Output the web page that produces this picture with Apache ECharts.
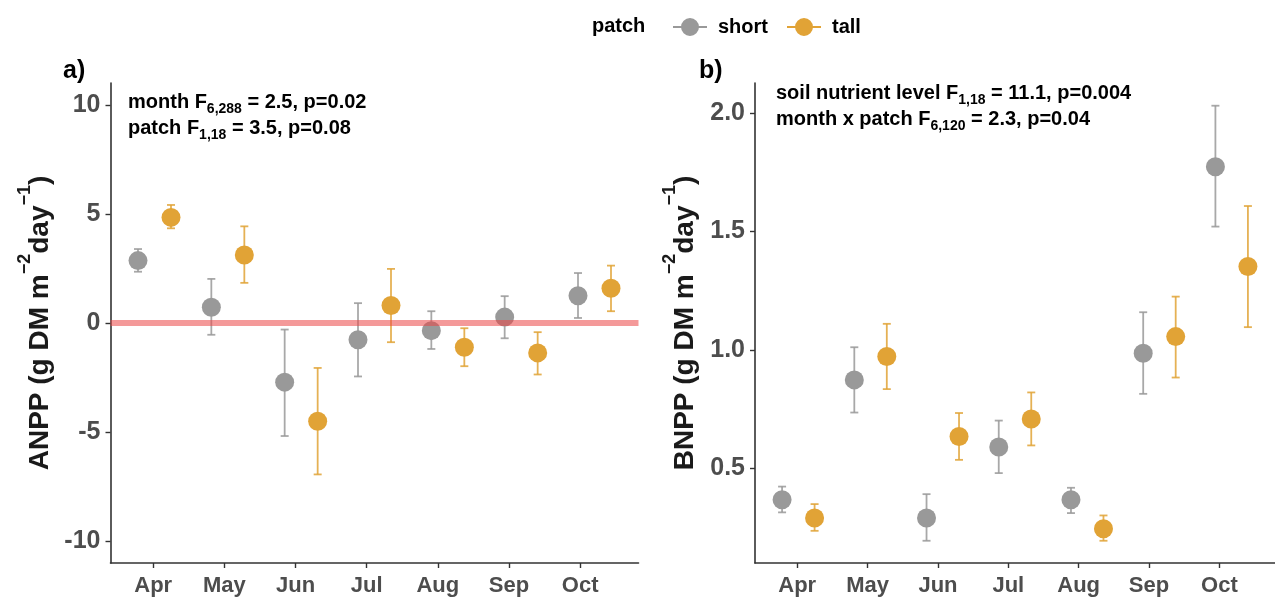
<!DOCTYPE html>
<html>
<head>
<meta charset="utf-8">
<script src="https://cdn.jsdelivr.net/npm/echarts@6/dist/echarts.min.js"></script>
<style>
html,body{margin:0;padding:0;background:#fff;}
#chart{width:1275px;height:600px;}
</style>
</head>
<body>
<div id="chart"></div>
<script>
// ---- data ----
const months = ['Apr','May','Jun','Jul','Aug','Sep','Oct'];
const patches = ['short','tall'];

const anppShort   = [2.86, 0.72, -2.71, -0.77, -0.35, 0.27, 1.25];
const anppShortLo = [2.35, -0.54, -5.18, -2.45, -1.19, -0.70, 0.23];
const anppShortHi = [3.39, 2.02, -0.30, 0.91, 0.54, 1.23, 2.29];
const anppTall    = [4.84, 3.12, -4.50, 0.80, -1.11, -1.37, 1.59];
const anppTallLo  = [4.34, 1.84, -6.94, -0.88, -1.98, -2.36, 0.54];
const anppTallHi  = [5.41, 4.43, -2.06, 2.48, -0.24, -0.42, 2.63];

const bnppShort   = [0.366, 0.873, 0.289, 0.589, 0.366, 0.986, 1.774];
const bnppShortLo = [0.313, 0.735, 0.193, 0.479, 0.310, 0.814, 1.521];
const bnppShortHi = [0.422, 1.011, 0.390, 0.701, 0.417, 1.159, 2.032];
const bnppTall    = [0.289, 0.972, 0.634, 0.708, 0.244, 1.056, 1.352];
const bnppTallLo  = [0.235, 0.834, 0.535, 0.596, 0.193, 0.883, 1.096];
const bnppTallHi  = [0.348, 1.110, 0.733, 0.820, 0.300, 1.225, 1.608];

const anppTicks = [-10, -5, 0, 5, 10];
const bnppTicks = [0.5, 1.0, 1.5, 2.0];
const monthTicks = [1, 2, 3, 4, 5, 6, 7];
const zeroLine = 0;

// ---- styles ----
const FONT = 'Liberation Sans, Arial, Helvetica, sans-serif';
const GREY = '#999999';
const GOLD = '#E1A336';
const AXIS = '#333333';
const LABEL = '#4d4d4d';
const DODGE = 0.225;

const chart = echarts.init(document.getElementById('chart'));

function pts(vals, off) { return vals.map((v, i) => [i + 1 + off, v]); }
function bars(lo, hi, off) { return lo.map((l, i) => [i + 1 + off, l, hi[i]]); }

function errRender(color) {
  return function (params, api) {
    const x = api.value(0), lo = api.value(1), hi = api.value(2);
    const a = api.coord([x, hi]), b = api.coord([x, lo]);
    const w = 4;
    const st = { stroke: color, lineWidth: 1.8, opacity: 0.85 };
    return {
      type: 'group',
      children: [
        { type: 'line', shape: { x1: a[0], y1: a[1], x2: b[0], y2: b[1] }, style: st },
        { type: 'line', shape: { x1: a[0] - w, y1: a[1], x2: a[0] + w, y2: a[1] }, style: st },
        { type: 'line', shape: { x1: b[0] - w, y1: b[1], x2: b[0] + w, y2: b[1] }, style: st }
      ]
    };
  };
}

function labelXAxis(grid, max) {
  return {
    gridIndex: grid, type: 'value', min: 0.4, max: max,
    axisLine: { show: true, onZero: false, lineStyle: { color: AXIS, width: 1.6 } },
    axisTick: { show: true, length: 5, customValues: monthTicks, lineStyle: { color: AXIS, width: 1.4 } },
    axisLabel: {
      customValues: monthTicks, margin: 12,
      formatter: v => months[Math.round(v) - 1] || '',
      color: LABEL, fontSize: 22, fontWeight: 'bold', fontFamily: FONT
    },
    splitLine: { show: false }
  };
}
function hiddenXAxis(grid) {
  return { gridIndex: grid, type: 'value', min: 0.4, max: 7.6, show: false, splitLine: { show: false } };
}

const nameRich = {
  t: { fontSize: 28, fontWeight: 'bold', fontFamily: FONT, color: '#1a1a1a', lineHeight: 38, verticalAlign: 'bottom' },
  sup: { fontSize: 18, fontWeight: 'bold', fontFamily: FONT, color: '#1a1a1a', lineHeight: 38, verticalAlign: 'top' }
};

function yAxisDef(grid, min, max, ticks, fmt, name, gap) {
  return {
    gridIndex: grid, type: 'value', min: min, max: max,
    axisLine: { show: true, onZero: false, lineStyle: { color: AXIS, width: 1.6 } },
    axisTick: { show: true, length: 5, customValues: ticks, lineStyle: { color: AXIS, width: 1.4 } },
    axisLabel: { customValues: ticks, formatter: fmt, margin: 10, color: LABEL, fontSize: 25, fontWeight: 'bold', fontFamily: FONT },
    splitLine: { show: false },
    name: name, nameLocation: 'middle', nameRotate: 90, nameGap: gap,
    nameTextStyle: { rich: nameRich }
  };
}

const sub = { fontSize: 14, fontWeight: 'bold', fontFamily: FONT, color: '#000', verticalAlign: 'bottom', lineHeight: 13 };
const txt = { fontSize: 20, fontWeight: 'bold', fontFamily: FONT, color: '#000', verticalAlign: 'middle', lineHeight: 28 };
const annRich = { t: txt, s: sub };

function annText(x, y, str) {
  return { type: 'text', left: x, top: y, style: { text: str, rich: annRich, font: 'bold 20px ' + FONT } };
}

const legendIcon = 'path://M0,8H34V10H0Z M26,9A9,9 0 1,1 8,9A9,9 0 1,1 26,9Z';

const option = {
  animation: false,
  backgroundColor: '#ffffff',
  grid: [
    { left: 110.5, top: 83, width: 528, height: 480 },
    { left: 755, top: 83, width: 532, height: 480 }
  ],
  legend: {
    data: patches,
    left: 668, top: 12,
    itemWidth: 34, itemHeight: 18, itemGap: 19,
    icon: legendIcon,
    textStyle: { fontSize: 20, fontWeight: 'bold', fontFamily: FONT, color: '#000', padding: [0, 0, 0, 6] }
  },
  xAxis: [ labelXAxis(0, 7.82), hiddenXAxis(0), labelXAxis(1, 7.79), hiddenXAxis(1) ],
  yAxis: [
    yAxisDef(0, -11, 11, anppTicks, v => String(v),
      '{t|ANPP (g DM m}{sup|−2}{t|day}{sup|−1}{t|)}', 56),
    yAxisDef(1, 0.099, 2.128, bnppTicks, v => v.toFixed(1),
      '{t|BNPP (g DM m}{sup|−2}{t|day}{sup|−1}{t|)}', 56)
  ],
  graphic: [
    { type: 'text', left: 63, top: 59, style: { text: 'a)', font: 'bold 25px ' + FONT, fill: '#000' } },
    { type: 'text', left: 699, top: 59, style: { text: 'b)', font: 'bold 25px ' + FONT, fill: '#000' } },
    { type: 'text', left: 592, top: 16, style: { text: 'patch', font: 'bold 20px ' + FONT, fill: '#000' } },
    annText(128, 92, '{t|month F}{s|6,288}{t| = 2.5, p=0.02}'),
    annText(128, 118, '{t|patch F}{s|1,18}{t| = 3.5, p=0.08}'),
    annText(776, 83, '{t|soil nutrient level F}{s|1,18}{t| = 11.1, p=0.004}'),
    annText(776, 109, '{t|month x patch F}{s|6,120}{t| = 2.3, p=0.04}')
  ],
  series: [
    // panel a error bars
    { type: 'custom', xAxisIndex: 1, yAxisIndex: 0, renderItem: errRender(GREY), data: bars(anppShortLo, anppShortHi, -DODGE), encode: { x: 0, y: [1, 2] }, z: 2 },
    { type: 'custom', xAxisIndex: 1, yAxisIndex: 0, renderItem: errRender(GOLD), data: bars(anppTallLo, anppTallHi, DODGE), encode: { x: 0, y: [1, 2] }, z: 2 },
    // panel a points
    { name: 'short', type: 'scatter', xAxisIndex: 1, yAxisIndex: 0, symbolSize: 19, itemStyle: { color: GREY, opacity: 1 }, data: pts(anppShort, -DODGE), z: 3 },
    { name: 'tall', type: 'scatter', xAxisIndex: 1, yAxisIndex: 0, symbolSize: 19, itemStyle: { color: GOLD, opacity: 1 }, data: pts(anppTall, DODGE), z: 3,
      markLine: { silent: true, symbol: 'none', label: { show: false }, emphasis: { disabled: true }, lineStyle: { color: 'rgba(235,70,70,0.55)', width: 6, type: 'solid' }, data: [{ yAxis: zeroLine }], z: 5 } },
    // panel b error bars
    { type: 'custom', xAxisIndex: 3, yAxisIndex: 1, renderItem: errRender(GREY), data: bars(bnppShortLo, bnppShortHi, -DODGE), encode: { x: 0, y: [1, 2] }, z: 2 },
    { type: 'custom', xAxisIndex: 3, yAxisIndex: 1, renderItem: errRender(GOLD), data: bars(bnppTallLo, bnppTallHi, DODGE), encode: { x: 0, y: [1, 2] }, z: 2 },
    // panel b points
    { name: 'short', type: 'scatter', xAxisIndex: 3, yAxisIndex: 1, symbolSize: 19, itemStyle: { color: GREY, opacity: 1 }, data: pts(bnppShort, -DODGE), z: 3 },
    { name: 'tall', type: 'scatter', xAxisIndex: 3, yAxisIndex: 1, symbolSize: 19, itemStyle: { color: GOLD, opacity: 1 }, data: pts(bnppTall, DODGE), z: 3 }
  ]
};
chart.setOption(option);
</script>
</body>
</html>
